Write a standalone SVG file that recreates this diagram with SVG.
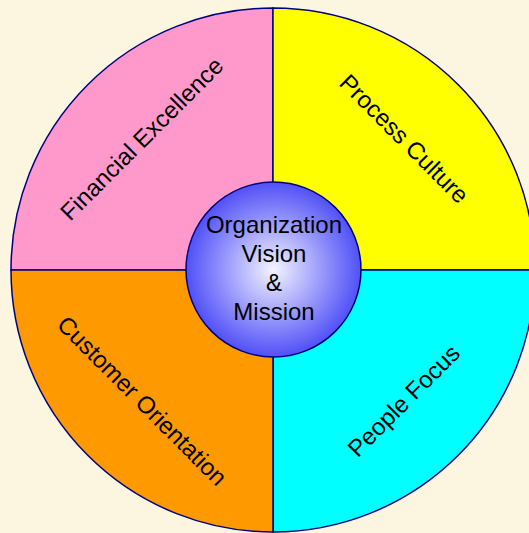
<svg xmlns="http://www.w3.org/2000/svg" width="529" height="533" viewBox="0 0 529 533">
<style>
.q{stroke:#000080;stroke-width:1.5}
.lbl{font-family:"Liberation Sans",Arial,sans-serif;font-size:24px;fill:#000;text-anchor:middle}
</style>
<defs>
<radialGradient id="g" cx="0.5" cy="0.5" r="0.5">
<stop offset="0" stop-color="#F4F4FF"/>
<stop offset="1" stop-color="#5050F8"/>
</radialGradient>
</defs>
<rect width="529" height="533" fill="#FCF5E0"/>
<g id="financial">
<path class="q" d="M273,270 L11,270 A262,262 0 0 1 273,8 Z" fill="#FF99CC"/>
<text class="lbl" transform="translate(142,139) rotate(-45)" y="8">Financial Excellence</text>
</g>
<g id="process">
<path class="q" d="M273,270 L273,8 A262,262 0 0 1 535,270 Z" fill="#FFFF00"/>
<text class="lbl" transform="translate(404,139) rotate(45)" y="8">Process Culture</text>
</g>
<g id="people">
<path class="q" d="M273,270 L535,270 A262,262 0 0 1 273,532 Z" fill="#00FFFF"/>
<text class="lbl" transform="translate(404,401) rotate(-45)" y="8">People Focus</text>
</g>
<g id="customer">
<path class="q" d="M273,270 L273,532 A262,262 0 0 1 11,270 Z" fill="#FF9900"/>
<text class="lbl" transform="translate(142,401) rotate(45)" y="8">Customer Orientation</text>
</g>
<g id="center">
<circle cx="273.5" cy="269.5" r="87.5" fill="url(#g)" stroke="#000080" stroke-width="1.5"/>
<text class="lbl" x="274" y="233">Organization</text>
<text class="lbl" x="274" y="262">Vision</text>
<text class="lbl" x="274" y="291">&amp;</text>
<text class="lbl" x="274" y="320">Mission</text>
</g>
</svg>
